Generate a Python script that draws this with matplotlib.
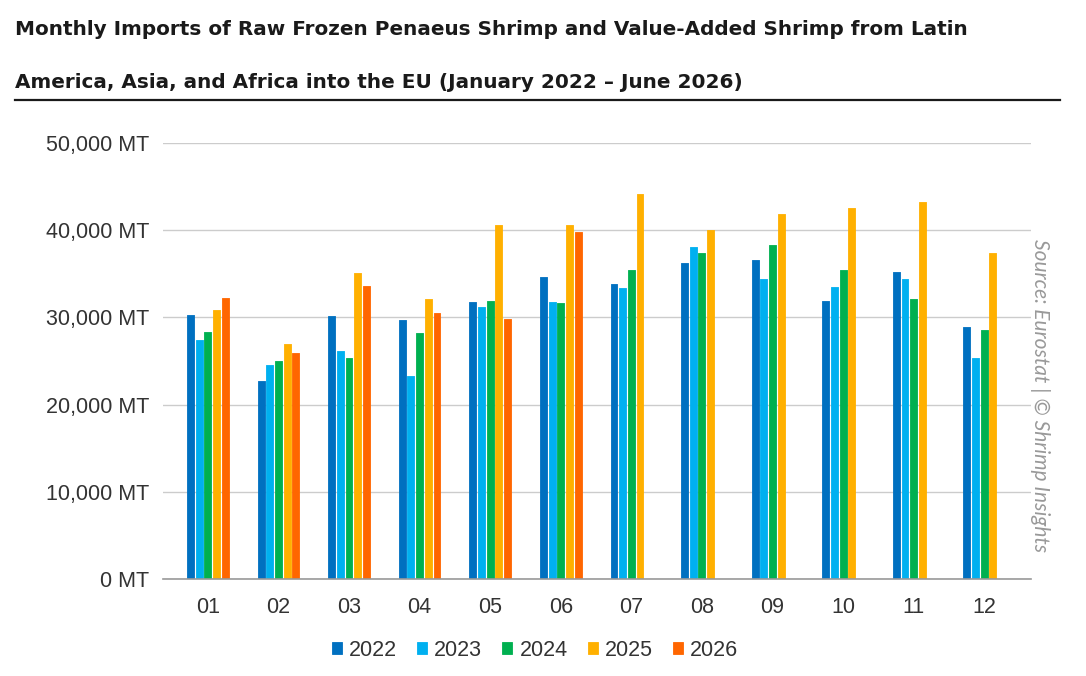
import matplotlib.pyplot as plt
import numpy as np
from matplotlib.lines import Line2D
from matplotlib.ticker import FuncFormatter

plt.rcParams['font.family'] = ['Liberation Sans', 'DejaVu Sans']

# --- data (MT) ---
months = ['01', '02', '03', '04', '05', '06', '07', '08', '09', '10', '11', '12']
years = ['2022', '2023', '2024', '2025', '2026']
v2022 = [30300, 22700, 30200, 29700, 31800, 34600, 33800, 36200, 36600, 31900, 35200, 28900]
v2023 = [27400, 24500, 26100, 23300, 31200, 31800, 33400, 38100, 34400, 33500, 34400, 25300]
v2024 = [28300, 25000, 25300, 28200, 31900, 31600, 35400, 37400, 38300, 35400, 32100, 28600]
v2025 = [30900, 27000, 35100, 32100, 40600, 40600, 44200, 40000, 41900, 42600, 43200, 37400]
v2026 = [32200, 25900, 33600, 30500, 29800, 39800]  # only Jan-Jun
series = [v2022, v2023, v2024, v2025, v2026]
colors = ['#0070C0', '#00B0F0', '#00B050', '#FFB000', '#FF6600']

fig = plt.figure(figsize=(10.86, 6.76), dpi=100)
ax = fig.add_axes([0.150, 0.1435, 0.799, 0.645])

# --- bars ---
step = 0.123
width = 0.098
x = np.arange(len(months))
for k, (vals, col, yr) in enumerate(zip(series, colors, years)):
    xs = x[:len(vals)] + (k - 2) * step
    ax.bar(xs, vals, width=width, color=col, label=yr, zorder=3,
           edgecolor=col, linewidth=0.6, joinstyle='round')

# --- axes ---
ax.set_xlim(-0.637, 11.657)
ax.set_ylim(0, 50000)
ax.set_yticks(np.arange(0, 50001, 10000))
ax.yaxis.set_major_formatter(FuncFormatter(lambda v, p: f'{int(v):,} MT'))
ax.set_xticks(x)
ax.set_xticklabels(months)
ax.grid(axis='y', color='#cccccc', linewidth=1.0, zorder=0)
ax.tick_params(axis='both', length=0, labelsize=15.5, colors='#333333')
ax.tick_params(axis='y', pad=10)
ax.tick_params(axis='x', pad=13)
for s in ['top', 'right', 'left']:
    ax.spines[s].set_visible(False)
ax.spines['bottom'].set_color('#999999')
ax.spines['bottom'].set_linewidth(1.2)
ax.spines['bottom'].set_zorder(4)

# --- legend ---
leg = ax.legend(loc='center', bbox_to_anchor=(0.4926, 0.038), bbox_transform=fig.transFigure,
                ncol=5, frameon=False, fontsize=15.5, handlelength=0.47, handleheight=0.47,
                handletextpad=0.33, columnspacing=0.93, borderpad=0)
for t in leg.get_texts():
    t.set_color('#333333')

# --- title, fitted to the reference line width ---
title_fam = ['Liberation Sans Narrow', 'DejaVu Sans']
t1 = fig.text(15 / 1086, 1 - 35 / 676, 'Monthly Imports of Raw Frozen Penaeus Shrimp and Value-Added Shrimp from Latin',
              fontsize=20, fontweight='bold', family=title_fam, color='#1a1a1a', va='baseline', ha='left')
t2 = fig.text(15 / 1086, 1 - 88 / 676, 'America, Asia, and Africa into the EU (January 2022 – June 2026)',
              fontsize=20, fontweight='bold', family=title_fam, color='#1a1a1a', va='baseline', ha='left')
fig.canvas.draw()
w = t1.get_window_extent().width
fs = 20 * 953 / w
t1.set_fontsize(fs)
t2.set_fontsize(fs)

fig.add_artist(Line2D([15 / 1086, 1060 / 1086], [1 - 100 / 676] * 2, color='#1a1a1a', linewidth=1.6))

# --- source note ---
fig.text(1040 / 1086, 1 - 396 / 676, 'Source: Eurostat | © Shrimp Insights', rotation=270,
         fontsize=15, style='italic', color='#999999', ha='center', va='center',
         family=['Lato', 'DejaVu Sans'])

fig.savefig('out.png', dpi=100)
